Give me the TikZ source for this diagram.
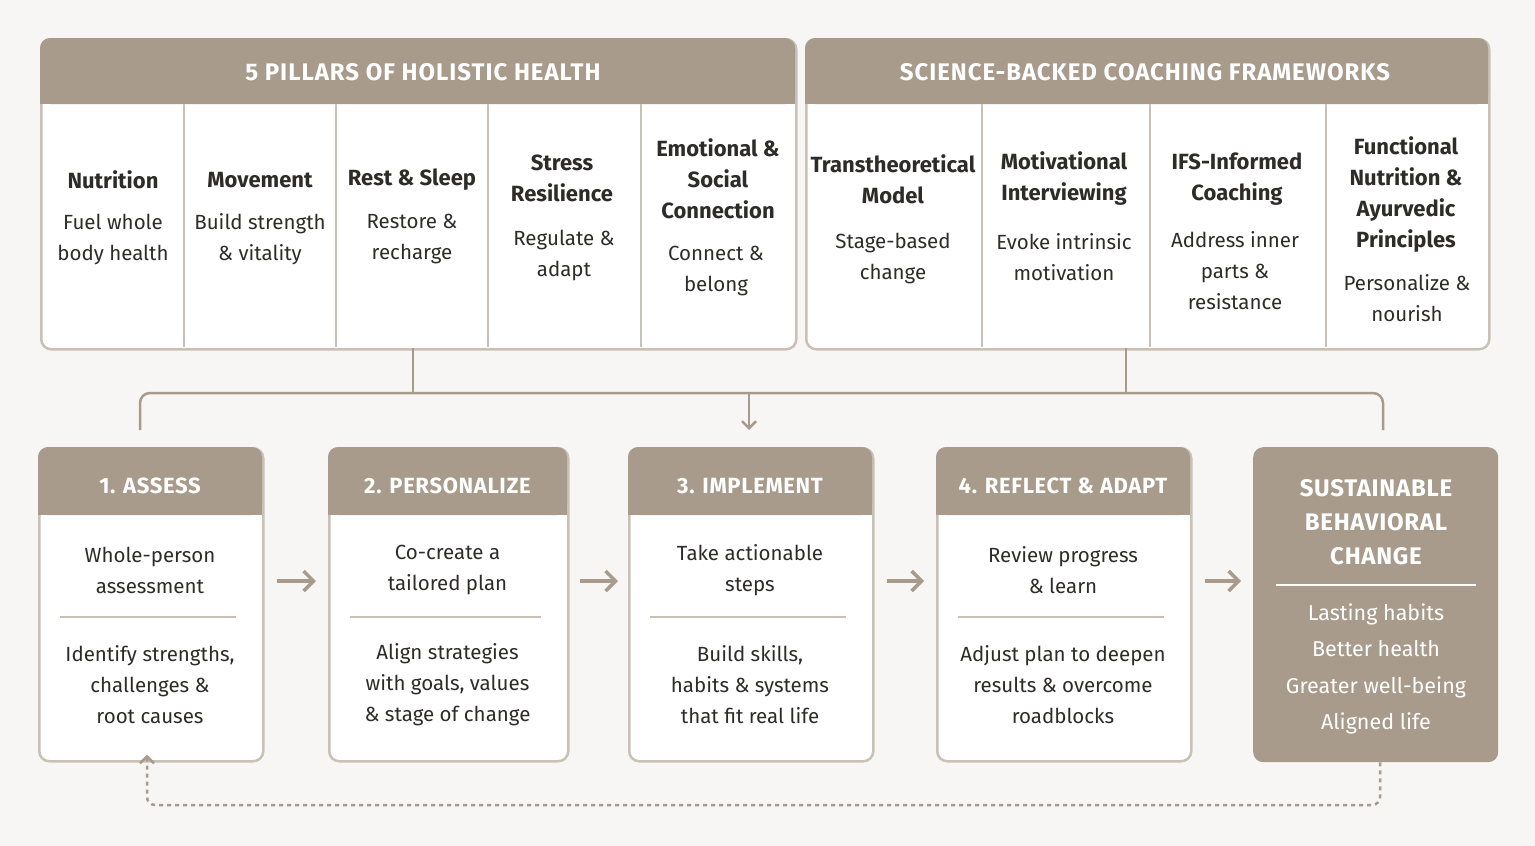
\documentclass[tikz,border=0pt]{standalone}
\usepackage{fontspec}
\setmainfont{Fira Sans}
\usetikzlibrary{arrows.meta}
\definecolor{hdr}{HTML}{A89B8B}
\definecolor{brd}{HTML}{C9C1B6}
\definecolor{ink}{HTML}{2E2C2A}
\definecolor{bg}{HTML}{F7F6F4}
\begin{document}
\begin{tikzpicture}[x=1pt,y=-1pt,
  panel/.style={draw=brd,line width=2.5pt,fill=white,rounded corners=10pt},
  hd/.style={fill=hdr},
  htext/.style={text=white,font=\addfontfeatures{LetterSpace=4}\fontsize{24}{28}\selectfont\bfseries,align=center},
  ttl/.style={text=ink,font=\fontsize{22}{31}\selectfont\bfseries,align=center},
  body/.style={text=ink,font=\fontsize{20.5}{31}\selectfont,align=center},
  conn/.style={draw=hdr,line width=2.5pt},
  arr/.style={draw=hdr,line width=3.5pt,-{Straight Barb[length=10pt,width=20pt]}},
  div/.style={draw=brd,line width=2pt}]
\fill[bg] (0,0) rectangle (1535,846);
\useasboundingbox (0,0) rectangle (1535,846);
% top panels
\node[panel,minimum width=755,minimum height=310,anchor=north west] (P1) at (40,38) {};
\fill[hdr,rounded corners=10pt] (40,38) rectangle (795,104);
\fill[hdr] (40,80) rectangle (795,104);
\node[htext] (P1h) at (423,72) {5 PILLARS OF HOLISTIC HEALTH};
\foreach \x in {184,336,488,641} \draw[div] (\x,104) -- (\x,347);
\node[panel,minimum width=683,minimum height=310,anchor=north west] (P2) at (805,38) {};
\fill[hdr,rounded corners=10pt] (805,38) rectangle (1488,104);
\fill[hdr] (805,80) rectangle (1488,104);
\node[htext] (P2h) at (1145,72) {SCIENCE-BACKED COACHING FRAMEWORKS};
\foreach \x in {982,1150,1326} \draw[div] (\x,104) -- (\x,347);
% pillar contents
\node[ttl] (n1) at (113,180) {Nutrition};
\node[body] (n1b) at (113,239) {Fuel whole\\body health};
\node[ttl] (n2) at (260,180) {Movement};
\node[body] (n2b) at (260,239) {Build strength\\\& vitality};
\node[ttl] (n3) at (412,180) {Rest \& Sleep};
\node[body] (n3b) at (412,239) {Restore \&\\recharge};
\node[ttl] (n4) at (562,178) {Stress\\Resilience};
\node[body] (n4b) at (564,255) {Regulate \&\\adapt};
\node[ttl] (n5) at (718,179) {Emotional \&\\Social\\Connection};
\node[body] (n5b) at (716,271) {Connect \&\\belong};
\node[ttl] (f1) at (893,179) {Transtheoretical\\Model};
\node[body] (f1b) at (893,258) {Stage-based\\change};
\node[ttl] (f2) at (1064,179) {Motivational\\Interviewing};
\node[body] (f2b) at (1064,257) {Evoke intrinsic\\motivation};
\node[ttl] (f3) at (1237,179) {IFS-Informed\\Coaching};
\node[body] (f3b) at (1235,271) {Address inner\\parts \&\\resistance};
\node[ttl] (f4) at (1406,195) {Functional\\Nutrition \&\\Ayurvedic\\Principles};
\node[body] (f4b) at (1407,298) {Personalize \&\\nourish};
% connectors
\coordinate (cL) at (413,348); \coordinate (cR) at (1126,348);
\coordinate (jL) at (413,393); \coordinate (jR) at (1126,393);
\coordinate (e1) at (140,393); \coordinate (e2) at (1383,393);
\coordinate (e1d) at (140,430); \coordinate (e2d) at (1383,430);
\coordinate (m) at (749,393); \coordinate (md) at (749,430);
\draw[conn] (cL) -- (jL); \draw[conn] (cR) -- (jR);
\draw[conn,rounded corners=10pt] (e1d) -- (e1) -- (e2) -- (e2d);
\draw[draw=hdr,line width=2.5pt,-{Straight Barb[length=7pt,width=14pt]}] (m) -- (md);
% bottom boxes
\newcommand\stepbox[7]{%
  \node[panel,minimum width=#3-#2,minimum height=313,anchor=north west] (#1) at (#2,447) {};
  \fill[hdr,rounded corners=10pt] (#2,447) rectangle (#3,515);
  \fill[hdr] (#2,490) rectangle (#3,515);
  \node[htext,font=\addfontfeatures{LetterSpace=3}\fontsize{22}{26}\selectfont\bfseries] (#1h) at ({(#2+#3)/2},486) {#4};
  \node[body] (#1a) at ({(#2+#3)/2},570) {#5};
  \draw[div] ({#2+22},617) -- ({#3-26},617);
  \node[body] (#1b) at ({(#2+#3)/2},685) {#6};
}
\stepbox{S1}{38}{262}{1. ASSESS}{Whole-person\\assessment}{Identify strengths,\\challenges \&\\root causes}{}
\stepbox{S2}{328}{567}{2. PERSONALIZE}{Co-create a\\tailored plan}{Align strategies\\with goals, values\\\& stage of change}{}
\stepbox{S3}{628}{872}{3. IMPLEMENT}{Take actionable\\steps}{Build skills,\\habits \& systems\\that fit real life}{}
\stepbox{S4}{936}{1190}{4. REFLECT \& ADAPT}{Review progress\\\& learn}{Adjust plan to deepen\\results \& overcome\\roadblocks}{}
\node[fill=hdr,rounded corners=10pt,minimum width=245,minimum height=315,anchor=north west] (S5) at (1253,447) {};
\node[htext,font=\addfontfeatures{LetterSpace=3}\fontsize{24}{34}\selectfont\bfseries] (S5h) at (1376,522) {SUSTAINABLE\\BEHAVIORAL\\CHANGE};
\draw[white,line width=2pt] (1276,585) -- (1476,585);
\node[body,text=white,font=\fontsize{21.5}{36.5}\selectfont] (S5b) at (1376,669) {Lasting habits\\Better health\\Greater well-being\\Aligned life};
% arrows between
\draw[arr] ([xshift=12pt]S1.east |- 0,581) -- ([xshift=-12pt]S2.west |- 0,581);
\draw[arr] ([xshift=10pt]S2.east |- 0,581) -- ([xshift=-10pt]S3.west |- 0,581);
\draw[arr] ([xshift=12pt]S3.east |- 0,581) -- ([xshift=-12pt]S4.west |- 0,581);
\draw[arr] ([xshift=12pt]S4.east |- 0,581) -- ([xshift=-12pt]S5.west |- 0,581);
% dashed loop
\coordinate (d1) at (1380,805); \coordinate (d2) at (147,805);
\draw[draw=hdr,line width=2.5pt,dash pattern=on 4pt off 4pt,rounded corners=8pt,-{Straight Barb[length=7pt,width=14pt]}]
  (S5.south -| d1) -- (d1) -- (d2) -- ([yshift=8pt]S1.south -| d2);
\end{tikzpicture}
\end{document}
